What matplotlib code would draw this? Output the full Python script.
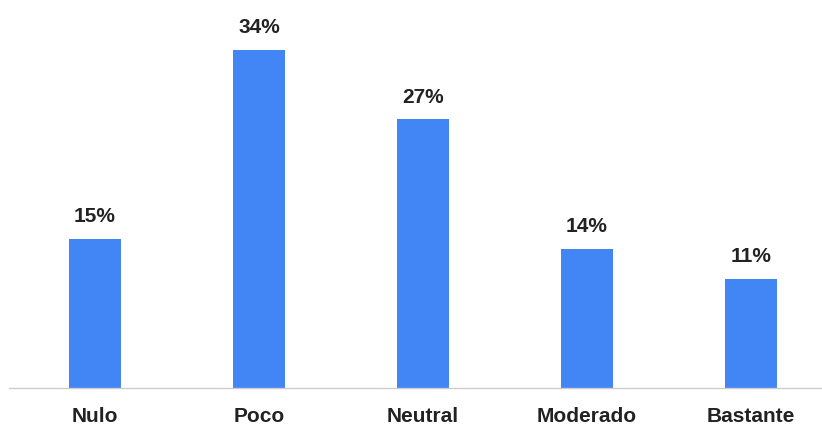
import matplotlib.pyplot as plt

# Survey answers and their shares (%)
categories = ["Nulo", "Poco", "Neutral", "Moderado", "Bastante"]
values = [15, 34, 27, 14, 11]

bar_color = "#4285f4"
text_color = "#222222"

plt.rcParams['font.family'] = ['Liberation Sans', 'DejaVu Sans']

fig = plt.figure(figsize=(8.22, 4.25), dpi=100)
ax = fig.add_axes([9 / 822, 1 - 388 / 425, 1 - 9 / 822, 388 / 425])

x = range(len(categories))
bars = ax.bar(x, values, width=0.32, color=bar_color, zorder=2)

# percentage label above each bar
for b, v in zip(bars, values):
    ax.annotate(f"{v}%", (b.get_x() + b.get_width() / 2, v),
                xytext=(0, 9), textcoords="offset points",
                ha="center", va="bottom", fontsize=15, fontweight="bold",
                color=text_color)

ax.set_xlim(-0.524, 4.433)
ax.set_ylim(0, 39)
ax.set_xticks(list(x))
ax.set_xticklabels(categories, fontsize=15, fontweight="bold", color=text_color)
ax.tick_params(axis="x", length=0, pad=14)
ax.set_yticks([])

for side in ["top", "right", "left"]:
    ax.spines[side].set_visible(False)
ax.spines["bottom"].set_color("#cccccc")
ax.spines["bottom"].set_linewidth(1)

fig.savefig("out.png", dpi=100)
